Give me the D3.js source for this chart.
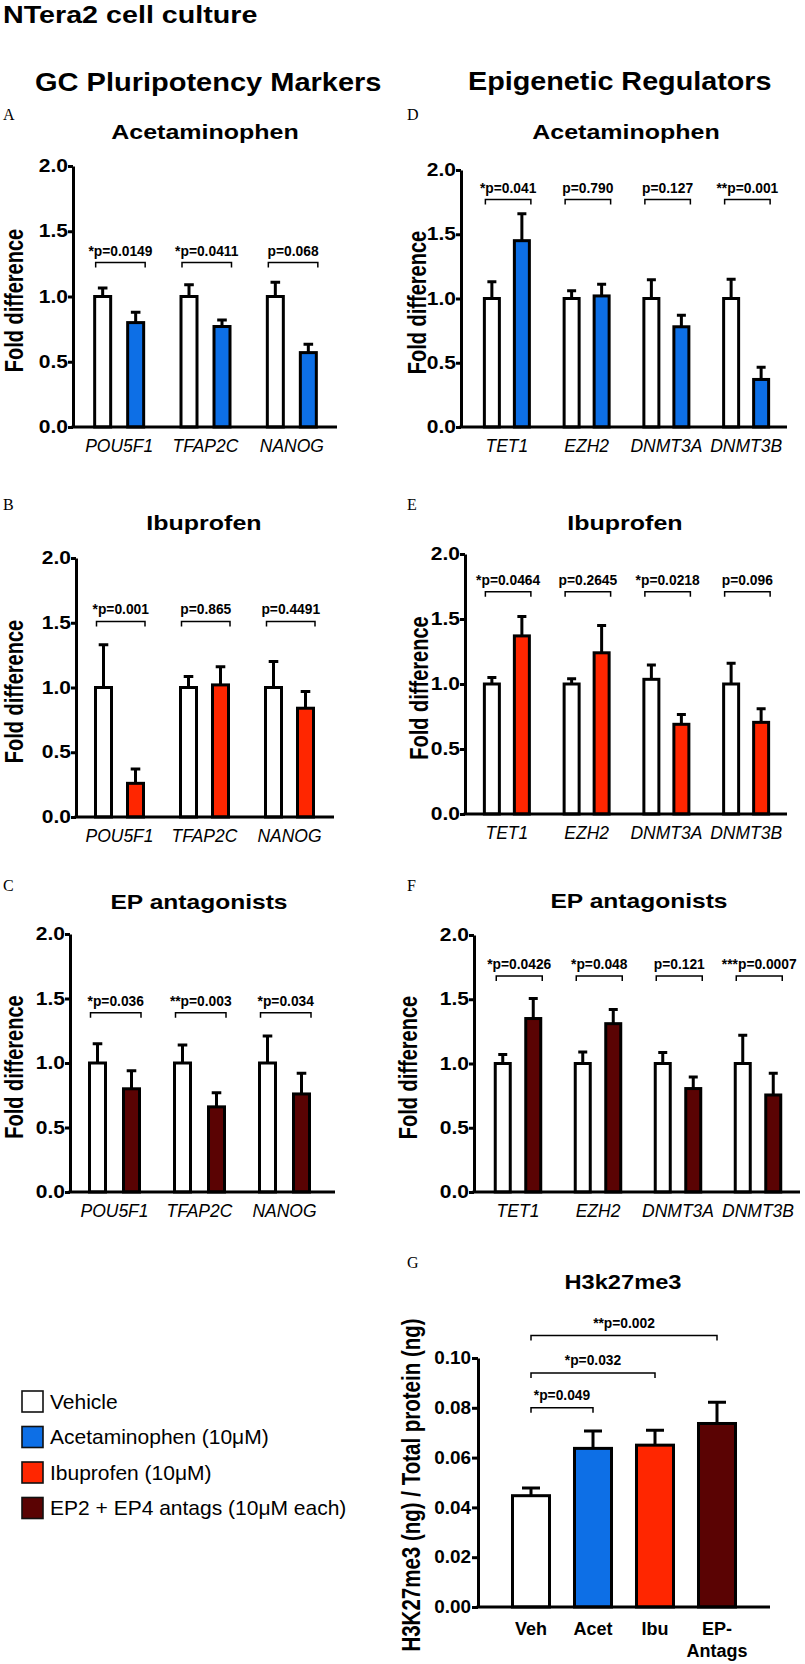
<!DOCTYPE html>
<html><head><meta charset="utf-8">
<script src="https://cdn.jsdelivr.net/npm/d3@7"></script>
<style>body{margin:0;background:#fff} svg{display:block}</style>
</head><body>
<svg id="chart" width="805" height="1664"></svg>
<script>
// ---------------- DATA ----------------
const gcGenes = ["POU5F1", "TFAP2C", "NANOG"];
const epiGenes = ["TET1", "EZH2", "DNMT3A", "DNMT3B"];
const seriesKeys = ["vehicle", "treated"];
const foldTicks = [0, 0.5, 1.0, 1.5, 2.0];

// A: GC markers, acetaminophen
const acetGC_vehicle = [1.0, 1.0, 1.0];
const acetGC_vehicleSEM = [0.065, 0.09, 0.11];
const acetGC_treated = [0.80, 0.77, 0.57];
const acetGC_treatedSEM = [0.08, 0.05, 0.065];
const acetGC_p = ["*p=0.0149", "*p=0.0411", "p=0.068"];
// B: GC markers, ibuprofen
const ibuGC_vehicle = [1.0, 1.0, 1.0];
const ibuGC_vehicleSEM = [0.33, 0.085, 0.20];
const ibuGC_treated = [0.26, 1.02, 0.84];
const ibuGC_treatedSEM = [0.11, 0.14, 0.13];
const ibuGC_p = ["*p=0.001", "p=0.865", "p=0.4491"];
// C: GC markers, EP antagonists
const epGC_vehicle = [1.0, 1.0, 1.0];
const epGC_vehicleSEM = [0.15, 0.14, 0.21];
const epGC_treated = [0.80, 0.66, 0.76];
const epGC_treatedSEM = [0.14, 0.11, 0.16];
const epGC_p = ["*p=0.036", "**p=0.003", "*p=0.034"];
// D: epigenetic regulators, acetaminophen
const acetEpi_vehicle = [1.0, 1.0, 1.0, 1.0];
const acetEpi_vehicleSEM = [0.13, 0.06, 0.145, 0.15];
const acetEpi_treated = [1.45, 1.02, 0.78, 0.37];
const acetEpi_treatedSEM = [0.21, 0.09, 0.09, 0.095];
const acetEpi_p = ["*p=0.041", "p=0.790", "p=0.127", "**p=0.001"];
// E: epigenetic regulators, ibuprofen
const ibuEpi_vehicle = [1.0, 1.0, 1.036, 1.0];
const ibuEpi_vehicleSEM = [0.05, 0.04, 0.11, 0.16];
const ibuEpi_treated = [1.37, 1.24, 0.69, 0.705];
const ibuEpi_treatedSEM = [0.15, 0.21, 0.075, 0.105];
const ibuEpi_p = ["*p=0.0464", "p=0.2645", "*p=0.0218", "p=0.096"];
// F: epigenetic regulators, EP antagonists
const epEpi_vehicle = [1.0, 1.0, 1.0, 1.0];
const epEpi_vehicleSEM = [0.07, 0.09, 0.086, 0.22];
const epEpi_treated = [1.35, 1.31, 0.805, 0.755];
const epEpi_treatedSEM = [0.155, 0.11, 0.09, 0.17];
const epEpi_p = ["*p=0.0426", "*p=0.048", "p=0.121", "***p=0.0007"];
// G: H3K27me3
const h3Categories = ["Veh", "Acet", "Ibu", "EP-Antags"];
const h3Values = [0.0447, 0.0637, 0.065, 0.0737];
const h3SEM = [0.0031, 0.007, 0.006, 0.0085];
const h3Ticks = [0, 0.02, 0.04, 0.06, 0.08, 0.10];
const h3Comparisons = [["Veh", "Acet", 0.080, "*p=0.049"], ["Veh", "Ibu", 0.094, "*p=0.032"], ["Veh", "EP-Antags", 0.109, "**p=0.002"]];
// Legend
const legendLabels = ["Vehicle", "Acetaminophen (10\u03BCM)", "Ibuprofen (10\u03BCM)", "EP2 + EP4 antags (10\u03BCM each)"];

// ---------------- STYLE ----------------
const colVehicle = "#ffffff", colAcet = "#0d6fe6", colIbu = "#ff2600", colEP = "#5a0303";
const legendColors = [colVehicle, colAcet, colIbu, colEP];
const h3Colors = [colVehicle, colAcet, colIbu, colEP];
const FONT = "'Liberation Sans', Arial, Helvetica, sans-serif";
const SERIF = "'Liberation Serif', 'Times New Roman', serif";

const svg = d3.select("#chart");

function stretch(sel, k) {
  sel.each(function () {
    const w = this.getComputedTextLength();
    if (w > 0) d3.select(this).attr("textLength", (w * k).toFixed(2)).attr("lengthAdjust", "spacingAndGlyphs");
  });
}
function txt(x, y, s, o) {
  const t = svg.append("text").attr("x", x).attr("y", y).text(s)
    .attr("font-family", o.family || FONT).attr("font-size", o.size)
    .attr("font-weight", o.weight || "normal").attr("font-style", o.style || "normal")
    .attr("text-anchor", o.anchor || "start").attr("fill", "#000");
  if (o.stretch) stretch(t, o.stretch);
  return t;
}
function rtxt(x, y, s, o) {
  return svg.append("text").attr("transform", `translate(${x},${y}) scale(1.3,1) rotate(-90)`).text(s)
    .attr("font-family", FONT).attr("font-size", o.size).attr("font-weight", "bold")
    .attr("text-anchor", "middle").attr("fill", "#000");
}

// ---------------- HEADINGS ----------------
txt(3, 23, "NTera2 cell culture", {size: 24.5, weight: "bold", stretch: 1.17});
txt(35, 91, "GC Pluripotency Markers", {size: 25, weight: "bold", stretch: 1.16});
txt(468, 90, "Epigenetic Regulators", {size: 25, weight: "bold", stretch: 1.15});

// ---------------- FOLD PANELS ----------------
const panels = [
  {letter: "A", title: "Acetaminophen", genes: gcGenes, veh: acetGC_vehicle, vehSEM: acetGC_vehicleSEM, trt: acetGC_treated, trtSEM: acetGC_treatedSEM, p: acetGC_p, color: colAcet, bracket: 1.26,
   axisX: 73, xEnd: 337, range: [76, 335], off: 16.5, bw: 16, y0: 427, yTop: 166, letterXY: [3, 120], titleXY: [205, 139], ylabX: 23, titleStretch: 1.19},
  {letter: "B", title: "Ibuprofen", genes: gcGenes, veh: ibuGC_vehicle, vehSEM: ibuGC_vehicleSEM, trt: ibuGC_treated, trtSEM: ibuGC_treatedSEM, p: ibuGC_p, color: colIbu, bracket: 1.51,
   axisX: 76, xEnd: 334, range: [77, 332], off: 16, bw: 16, y0: 817, yTop: 558, letterXY: [3, 510], titleXY: [204, 530], ylabX: 23, titleStretch: 1.19},
  {letter: "C", title: "EP antagonists", genes: gcGenes, veh: epGC_vehicle, vehSEM: epGC_vehicleSEM, trt: epGC_treated, trtSEM: epGC_treatedSEM, p: epGC_p, color: colEP, bracket: 1.39,
   axisX: 70, xEnd: 335, range: [72, 327], off: 17, bw: 16, y0: 1192, yTop: 934, letterXY: [3, 891], titleXY: [199, 909], ylabX: 23, titleStretch: 1.17},
  {letter: "D", title: "Acetaminophen", genes: epiGenes, veh: acetEpi_vehicle, vehSEM: acetEpi_vehicleSEM, trt: acetEpi_treated, trtSEM: acetEpi_treatedSEM, p: acetEpi_p, color: colAcet, bracket: 1.77,
   axisX: 461, xEnd: 787, range: [467, 786], off: 15, bw: 15, y0: 427, yTop: 170, letterXY: [407, 120], titleXY: [626, 139], ylabX: 426, titleStretch: 1.19},
  {letter: "E", title: "Ibuprofen", genes: epiGenes, veh: ibuEpi_vehicle, vehSEM: ibuEpi_vehicleSEM, trt: ibuEpi_treated, trtSEM: ibuEpi_treatedSEM, p: ibuEpi_p, color: colIbu, bracket: 1.71,
   axisX: 465, xEnd: 787, range: [467, 786], off: 15, bw: 15, y0: 814, yTop: 554, letterXY: [407, 510], titleXY: [625, 530], ylabX: 428, titleStretch: 1.19},
  {letter: "F", title: "EP antagonists", genes: epiGenes, veh: epEpi_vehicle, vehSEM: epEpi_vehicleSEM, trt: epEpi_treated, trtSEM: epEpi_treatedSEM, p: epEpi_p, color: colEP, bracket: 1.68,
   axisX: 474, xEnd: 800, range: [478, 798], off: 15.25, bw: 15, y0: 1192, yTop: 935, letterXY: [407, 891], titleXY: [639, 908], ylabX: 417, titleStretch: 1.17}
];

panels.forEach(P => {
  txt(P.letterXY[0], P.letterXY[1], P.letter, {size: 16, family: SERIF});
  txt(P.titleXY[0], P.titleXY[1], P.title, {size: 21, weight: "bold", anchor: "middle", stretch: P.titleStretch});

  const x = d3.scaleBand().domain(P.genes).range(P.range);
  const c = x.bandwidth() / 2;
  const inner = d3.scaleBand().domain(seriesKeys)
    .range([c - P.off - P.bw / 2, c + P.off + P.bw / 2])
    .paddingInner(1 - P.bw / (2 * P.off));
  const y = d3.scaleLinear().domain([0, 2]).range([P.y0, P.yTop]);

  const rows = [];
  P.genes.forEach((g, i) => {
    rows.push({gene: g, key: "vehicle", v: P.veh[i], e: P.vehSEM[i], fill: colVehicle});
    rows.push({gene: g, key: "treated", v: P.trt[i], e: P.trtSEM[i], fill: P.color});
  });
  const g = svg.append("g");
  g.selectAll("rect.bar").data(rows).join("rect").attr("class", "bar")
    .attr("x", d => x(d.gene) + inner(d.key)).attr("width", inner.bandwidth())
    .attr("y", d => y(d.v)).attr("height", d => y(0) - y(d.v))
    .attr("fill", d => d.fill).attr("stroke", "#000").attr("stroke-width", 3);
  // error bars (upper only)
  const cap = P.bw * 0.3;
  g.selectAll("path.err").data(rows).join("path").attr("class", "err")
    .attr("d", d => {
      const cx = x(d.gene) + inner(d.key) + inner.bandwidth() / 2;
      const yt = y(d.v + d.e);
      return `M${cx},${y(d.v)}V${yt}M${cx - cap},${yt}H${cx + cap}`;
    })
    .attr("fill", "none").attr("stroke", "#000").attr("stroke-width", 3);
  // brackets
  const by = y(P.bracket);
  P.genes.forEach((gn, i) => {
    const x1 = x(gn) + inner("vehicle") + 1;
    const x2 = x(gn) + inner("treated") + inner.bandwidth() + 1.5;
    g.append("path").attr("d", `M${x1},${by + 5}V${by}H${x2}V${by + 5}`)
      .attr("fill", "none").attr("stroke", "#000").attr("stroke-width", 1.5);
    txt((x1 + x2) / 2, by - 7, P.p[i], {size: 13.8, weight: "bold", anchor: "middle"});
  });
  // axes
  const ya = svg.append("g").attr("transform", `translate(${P.axisX},0)`)
    .call(d3.axisLeft(y).tickValues(foldTicks).tickFormat(d3.format(".1f")).tickSize(5).tickSizeOuter(0).tickPadding(0));
  ya.select(".domain").attr("stroke-width", 3).attr("stroke", "#000");
  ya.selectAll(".tick line").attr("stroke-width", 3).attr("stroke", "#000");
  ya.selectAll(".tick text").attr("font-family", FONT).attr("font-size", 17.5).attr("font-weight", "bold").attr("fill", "#000");
  stretch(ya.selectAll(".tick text"), 1.2);
  svg.append("line").attr("x1", P.axisX - 1.5).attr("x2", P.xEnd).attr("y1", P.y0).attr("y2", P.y0)
    .attr("stroke", "#000").attr("stroke-width", 3);
  const xa = svg.append("g").attr("transform", `translate(0,${P.y0})`)
    .call(d3.axisBottom(x).tickSize(0));
  xa.select(".domain").remove();
  xa.selectAll(".tick text").attr("y", 25).attr("dy", 0).attr("font-family", FONT)
    .attr("font-size", 17.5).attr("font-style", "italic").attr("fill", "#000");
  rtxt(P.ylabX, (P.y0 + P.yTop) / 2 + 4, "Fold difference", {size: 20});
});

// ---------------- PANEL G ----------------
(function () {
  const axisX = 478, xEnd = 770, y0 = 1607, yTop = 1358;
  txt(407, 1268, "G", {size: 16, family: SERIF});
  txt(623, 1289, "H3k27me3", {size: 21, weight: "bold", anchor: "middle", stretch: 1.125});
  const x = d3.scaleBand().domain(h3Categories).range([500, 748]).paddingInner(0.403).paddingOuter(0.2015);
  const y = d3.scaleLinear().domain([0, 0.10]).range([y0, yTop]);
  const rows = h3Categories.map((c, i) => ({c, v: h3Values[i], e: h3SEM[i], fill: h3Colors[i]}));
  const g = svg.append("g");
  g.selectAll("rect").data(rows).join("rect")
    .attr("x", d => x(d.c)).attr("width", x.bandwidth())
    .attr("y", d => y(d.v)).attr("height", d => y(0) - y(d.v))
    .attr("fill", d => d.fill).attr("stroke", "#000").attr("stroke-width", 3);
  g.selectAll("path.err").data(rows).join("path").attr("class", "err")
    .attr("d", d => {
      const cx = x(d.c) + x.bandwidth() / 2, yt = y(d.v + d.e);
      return `M${cx},${y(d.v)}V${yt}M${cx - 9},${yt}H${cx + 9}`;
    })
    .attr("fill", "none").attr("stroke", "#000").attr("stroke-width", 3);
  h3Comparisons.forEach(([a, b, lvl, lab]) => {
    const x1 = x(a) + x.bandwidth() / 2, x2 = x(b) + x.bandwidth() / 2, by = y(lvl);
    g.append("path").attr("d", `M${x1},${by + 5}V${by}H${x2}V${by + 5}`)
      .attr("fill", "none").attr("stroke", "#000").attr("stroke-width", 1.5);
    txt((x1 + x2) / 2, by - 8, lab, {size: 13.8, weight: "bold", anchor: "middle"});
  });
  const ya = svg.append("g").attr("transform", `translate(${axisX},0)`)
    .call(d3.axisLeft(y).tickValues(h3Ticks).tickFormat(d3.format(".2f")).tickSize(6).tickSizeOuter(0).tickPadding(1));
  ya.select(".domain").attr("stroke-width", 3).attr("stroke", "#000");
  ya.selectAll(".tick line").attr("stroke-width", 3).attr("stroke", "#000");
  ya.selectAll(".tick text").attr("font-family", FONT).attr("font-size", 18).attr("font-weight", "bold").attr("fill", "#000");
  stretch(ya.selectAll(".tick text"), 1.05);
  svg.append("line").attr("x1", axisX - 1.5).attr("x2", xEnd).attr("y1", y0).attr("y2", y0)
    .attr("stroke", "#000").attr("stroke-width", 3);
  const xa = svg.append("g").attr("transform", `translate(0,${y0})`).call(d3.axisBottom(x).tickSize(0));
  xa.select(".domain").remove();
  xa.selectAll(".tick text").each(function (d) {
    const t = d3.select(this).text(null).attr("y", 28).attr("dy", 0)
      .attr("font-family", FONT).attr("font-size", 18).attr("font-weight", "bold").attr("fill", "#000");
    const parts = d === "EP-Antags" ? ["EP-", "Antags"] : [d];
    parts.forEach((p, i) => t.append("tspan").attr("x", 0).attr("dy", i === 0 ? 0 : 22).text(p));
  });
  rtxt(420, 1485, "H3K27me3 (ng) / Total protein (ng)", {size: 20.5});
})();

// ---------------- LEGEND ----------------
const lg = svg.append("g").attr("transform", "translate(22,1391)");
legendLabels.forEach((lab, i) => {
  lg.append("rect").attr("x", 0).attr("y", i * 35.5).attr("width", 21).attr("height", 21)
    .attr("fill", legendColors[i]).attr("stroke", "#111").attr("stroke-width", 1.6);
  lg.append("text").attr("x", 28).attr("y", i * 35.5 + 17.5).text(lab)
    .attr("font-family", FONT).attr("font-size", 21).attr("fill", "#000");
});
</script>
</body></html>
